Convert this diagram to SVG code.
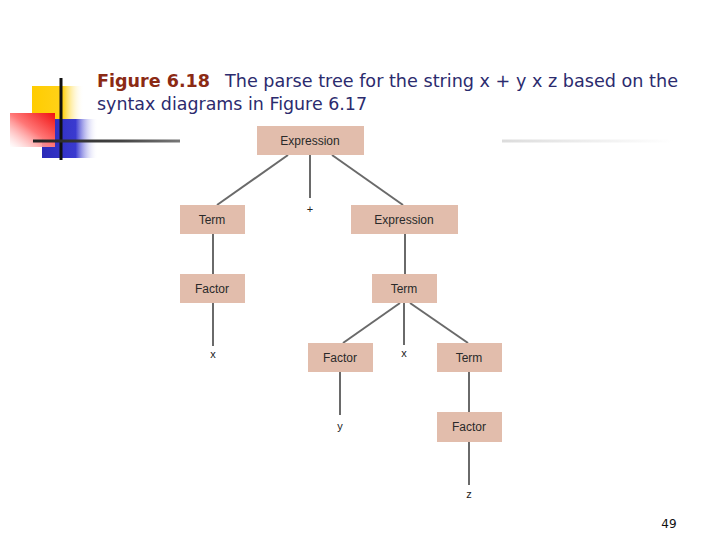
<svg xmlns="http://www.w3.org/2000/svg" width="720" height="540" viewBox="0 0 720 540">
<defs>
<linearGradient id="gy" x1="0" y1="0" x2="1" y2="0"><stop offset="0" stop-color="#ffcc00"/><stop offset="0.6" stop-color="#ffd21a"/><stop offset="1" stop-color="#ffffff" stop-opacity="0"/></linearGradient>
<linearGradient id="gb" x1="0" y1="0" x2="1" y2="0"><stop offset="0" stop-color="#2a2ab8"/><stop offset="0.6" stop-color="#3a3ad0"/><stop offset="1" stop-color="#ffffff" stop-opacity="0"/></linearGradient>
<linearGradient id="gr" x1="0" y1="1" x2="1" y2="0"><stop offset="0" stop-color="#ffffff" stop-opacity="0.6"/><stop offset="0.5" stop-color="#f77"/><stop offset="1" stop-color="#f01010"/></linearGradient>
<linearGradient id="gh" gradientUnits="userSpaceOnUse" x1="33" y1="0" x2="180" y2="0"><stop offset="0" stop-color="#222"/><stop offset="0.6" stop-color="#444"/><stop offset="1" stop-color="#777"/></linearGradient>
<linearGradient id="gg" gradientUnits="userSpaceOnUse" x1="502" y1="0" x2="673" y2="0"><stop offset="0" stop-color="#dcdcdc"/><stop offset="1" stop-color="#ffffff"/></linearGradient>
<style>
.box{fill:#e2bdac}
.nt{font-family:"Liberation Sans",Arial,sans-serif;font-size:12px;fill:#2a2a2a;text-anchor:middle}
.lf{font-family:"Liberation Sans",Arial,sans-serif;font-size:11px;fill:#222;text-anchor:middle}
.ln{stroke:#6a6a6a;stroke-width:2;fill:none}
.t{font-family:Tahoma,"DejaVu Sans","Liberation Sans",sans-serif;font-size:18px}
</style>
</defs>
<g id="decoration">
<rect x="32" y="86" width="52" height="34" fill="url(#gy)"/>
<rect x="42" y="119" width="56" height="39" fill="url(#gb)"/>
<rect x="10" y="113" width="45" height="34" fill="url(#gr)"/>
<line x1="61" y1="78" x2="61" y2="160" stroke="#111" stroke-width="3"/>
<line x1="33" y1="141" x2="180" y2="141" stroke="url(#gh)" stroke-width="3"/>
<line x1="502" y1="141" x2="673" y2="141" stroke="url(#gg)" stroke-width="3"/>
</g>
<g id="title">
<text class="t" x="97" y="87" font-weight="bold" fill="#8b2a14" textLength="113" lengthAdjust="spacingAndGlyphs">Figure 6.18</text>
<text class="t" x="225" y="87" fill="#2b2b6e" textLength="453" lengthAdjust="spacingAndGlyphs">The parse tree for the string x + y x z based on the</text>
<text class="t" x="97" y="110" fill="#2b2b6e" textLength="270" lengthAdjust="spacingAndGlyphs">syntax diagrams in Figure 6.17</text>
</g>
<g id="connectors">
<line class="ln" x1="288" y1="155" x2="217" y2="205"/>
<line class="ln" x1="310" y1="155" x2="310" y2="198"/>
<line class="ln" x1="332" y1="155" x2="403" y2="205"/>
<line class="ln" x1="213" y1="234" x2="213" y2="274"/>
<line class="ln" x1="405" y1="234" x2="405" y2="274"/>
<line class="ln" x1="213" y1="303" x2="213" y2="346"/>
<line class="ln" x1="400" y1="303" x2="343" y2="343"/>
<line class="ln" x1="404" y1="303" x2="404" y2="345"/>
<line class="ln" x1="410" y1="303" x2="468" y2="343"/>
<line class="ln" x1="340" y1="372" x2="340" y2="415"/>
<line class="ln" x1="469" y1="372" x2="469" y2="412"/>
<line class="ln" x1="469" y1="442" x2="469" y2="485"/>
</g>
<g id="n-expr1"><rect class="box" x="257" y="126" width="107" height="29"/><text class="nt" x="310" y="145">Expression</text></g>
<g id="n-term1"><rect class="box" x="180" y="205" width="65" height="29"/><text class="nt" x="212" y="224">Term</text></g>
<g id="n-expr2"><rect class="box" x="351" y="205" width="107" height="29"/><text class="nt" x="404" y="224">Expression</text></g>
<g id="n-factor1"><rect class="box" x="180" y="274" width="65" height="29"/><text class="nt" x="212" y="293">Factor</text></g>
<g id="n-term2"><rect class="box" x="372" y="274" width="65" height="29"/><text class="nt" x="404" y="293">Term</text></g>
<g id="n-factor2"><rect class="box" x="308" y="343" width="65" height="29"/><text class="nt" x="340" y="362">Factor</text></g>
<g id="n-term3"><rect class="box" x="437" y="343" width="65" height="29"/><text class="nt" x="469" y="362">Term</text></g>
<g id="n-factor3"><rect class="box" x="437" y="412" width="65" height="30"/><text class="nt" x="469" y="431">Factor</text></g>
<g id="leaves">
<text class="lf" x="310" y="213">+</text>
<text class="lf" x="213" y="358">x</text>
<text class="lf" x="404" y="357">x</text>
<text class="lf" x="340" y="430">y</text>
<text class="lf" x="469" y="498">z</text>
</g>
<text x="669" y="528" font-family="Tahoma,'DejaVu Sans',sans-serif" font-size="12" fill="#111" text-anchor="middle">49</text>
</svg>
